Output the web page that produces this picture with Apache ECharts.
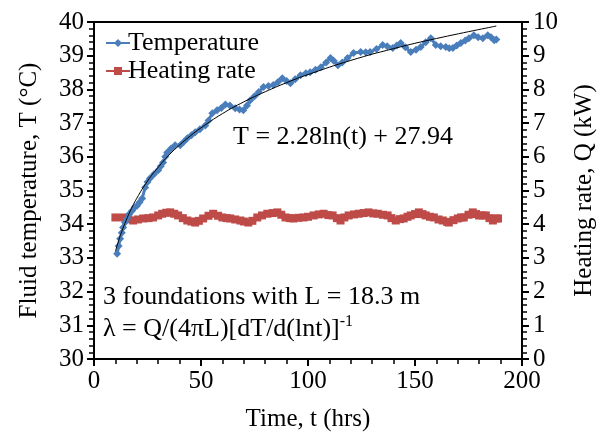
<!DOCTYPE html>
<html>
<head>
<meta charset="utf-8">
<script src="https://cdn.jsdelivr.net/npm/echarts@6/dist/echarts.min.js"></script>
<style>
html,body{margin:0;padding:0;background:#fff;}
#c{width:611px;height:439px;}
</style>
</head>
<body>
<div id="c"></div>
<script>
// Temperature readings (time in hrs, temperature in °C)
var tempTime = [10.8,11.5,12.2,13.0,13.6,14.5,15.5,16.5,17.8,19.0,20.1,21.3,22.5,23.9,25.0,26.2,28.0,30.0,31.2,32.3,33.3,34.2,36.0,37.9,40.3,42.0,43.6,45.5,47.3,49.5,52.0,53.5,55.3,57.5,59.5,61.4,63.5,66.0,68.0,69.8,71.5,73.0,75.0,77.0,79.2,81.5,83.8,86.0,88.0,90.0,91.8,94.0,96.5,99.0,101.0,103.5,106.0,108.5,110.5,112.0,114.0,116.0,118.5,121.3,124.6,127.0,129.0,132.0,134.9,137.0,139.6,141.5,143.3,145.5,148.0,150.5,152.7,155.0,157.4,159.7,162.0,164.4,166.0,167.7,169.5,171.4,173.5,175.2,177.5,179.5,181.7,184.0,185.5,187.0,188.0];
var tempVals = [33.12,33.35,33.57,33.75,33.9,34.05,34.17,34.3,34.4,34.5,34.55,34.65,34.76,35.09,35.25,35.36,35.48,35.6,35.72,35.83,36.0,36.13,36.25,36.34,36.34,36.45,36.55,36.64,36.73,36.82,36.93,37.08,37.29,37.38,37.45,37.55,37.52,37.44,37.4,37.38,37.52,37.68,37.8,37.92,38.07,38.1,38.13,38.22,38.33,38.25,38.18,38.3,38.42,38.48,38.51,38.58,38.66,38.8,38.93,38.85,38.72,38.8,38.93,39.08,39.11,39.1,39.11,39.2,39.32,39.28,39.23,39.3,39.38,39.25,39.11,39.18,39.26,39.4,39.52,39.32,39.28,39.26,39.22,39.23,39.3,39.38,39.45,39.52,39.61,39.55,39.52,39.61,39.55,39.46,39.48];

// Heating rate readings (time in hrs, Q in kW)
var heatTime = [10,13.6,16,18.3,20.5,23,25.5,27.6,30,31.9,33.8,35.6,37.5,39.3,41.5,43.6,45.5,47.3,49,51,53.5,55.7,58,60,62,63.7,66,68.4,70,72.1,74,76.3,78.5,81,83.5,85.7,87.5,89.5,91.5,93.2,95.5,97.9,100,102.6,105,107.3,109.5,111.5,113.5,115.2,117,119,121.5,123.7,126,128.3,130.5,132.6,135,137.2,139,141,143,144.7,146.5,148,150,151.8,153.5,155,157,158.8,161,163,165,165.8,168,170,171.5,172.8,175,177,178.5,179.9,181.5,183.1,184.8,186.4,188,188.8];
var heatVals = [4.2,4.2,4.15,4.11,4.14,4.17,4.18,4.2,4.26,4.31,4.34,4.35,4.31,4.26,4.18,4.11,4.08,4.05,4.1,4.17,4.25,4.31,4.25,4.2,4.18,4.17,4.14,4.11,4.08,4.05,4.1,4.2,4.26,4.31,4.33,4.35,4.28,4.2,4.18,4.17,4.19,4.2,4.22,4.26,4.29,4.31,4.27,4.26,4.18,4.11,4.2,4.26,4.29,4.31,4.33,4.35,4.32,4.31,4.28,4.26,4.18,4.11,4.15,4.17,4.22,4.26,4.3,4.35,4.3,4.26,4.22,4.2,4.14,4.11,4.07,4.05,4.12,4.17,4.2,4.2,4.28,4.35,4.3,4.26,4.26,4.26,4.18,4.11,4.17,4.17];

// Logarithmic trendline T = 2.28 ln(t) + 27.94, values listed at sample times
var trendTime = [10,11,12,13,15,17,20,25,30,35,40,45,50,60,70,80,90,100,120,140,160,188];
var trendVals = [33.19,33.41,33.61,33.79,34.11,34.40,34.77,35.28,35.69,36.05,36.35,36.62,36.86,37.28,37.63,37.93,38.20,38.44,38.86,39.21,39.51,39.88];

var xTicks = [0,50,100,150,200];
var leftTicks = [30,31,32,33,34,35,36,37,38,39,40];
var rightTicks = [0,1,2,3,4,5,6,7,8,9,10];

function pairs(a,b){ return a.map(function(v,i){ return [v,b[i]]; }); }

var FONT = 'Liberation Serif';
var BLUE = '#4A7EBB';
var RED = '#BE4B48';

var chart = echarts.init(document.getElementById('c'), null, {renderer:'canvas'});

function axisCommon(){
  return {
    axisLine:{show:true,onZero:false,lineStyle:{color:'#000',width:2}},
    axisTick:{show:true,inside:false,length:7,lineStyle:{color:'#000',width:2}},
    minorTick:{show:true,splitNumber:5,length:5,lineStyle:{color:'#000',width:1.5}},
    splitLine:{show:false},
    axisLabel:{color:'#000',fontFamily:FONT,fontSize:25,margin:10},
    nameTextStyle:{color:'#000',fontFamily:FONT,fontSize:25}
  };
}

var xA = Object.assign(axisCommon(), {
  type:'value', min:xTicks[0], max:xTicks[xTicks.length-1], interval:50,
  name:'Time, t (hrs)', nameLocation:'middle', nameGap:48
});
var yL = Object.assign(axisCommon(), {
  type:'value', position:'left', min:leftTicks[0], max:leftTicks[leftTicks.length-1], interval:1,
  name:'Fluid temperature, T (°C)', nameLocation:'middle', nameGap:52
});
var yR = Object.assign(axisCommon(), {
  type:'value', position:'right', min:rightTicks[0], max:rightTicks[rightTicks.length-1], interval:1,
  name:'Heating rate, Q (kW)', nameLocation:'middle', nameGap:50
});
yR.axisLabel = Object.assign({}, yR.axisLabel, {margin:11});

chart.setOption({
  animation:false,
  backgroundColor:'#fff',
  grid:{left:94,right:89,top:22,bottom:80,show:true,borderColor:'#000',borderWidth:2,backgroundColor:'transparent'},
  legend:{
    show:true, orient:'vertical', left:100, top:25, itemWidth:24, itemHeight:10, itemGap:2,
    data:['Temperature','Heating rate'],
    textStyle:{color:'#000',fontFamily:FONT,fontSize:26,padding:[0,0,0,-7]}
  },
  xAxis:xA,
  yAxis:[yL,yR],
  series:[
    {name:'Trend', type:'line', yAxisIndex:0, data:pairs(trendTime,trendVals), smooth:true,
     showSymbol:false, symbol:'none', lineStyle:{color:'#000',width:1}, z:5, silent:true},
    {name:'Heating rate', type:'line', yAxisIndex:1, data:pairs(heatTime,heatVals),
     symbol:'rect', symbolSize:8, itemStyle:{color:RED}, lineStyle:{color:RED,width:5}, z:3},
    {name:'Temperature', type:'line', yAxisIndex:0, data:pairs(tempTime,tempVals),
     symbol:'diamond', symbolSize:8, itemStyle:{color:BLUE}, lineStyle:{color:BLUE,width:3}, z:4}
  ],
  graphic:[
    {type:'text', left:233, top:124, style:{text:'T = 2.28ln(t) + 27.94', font:'26px "Liberation Serif"', fill:'#000'}},
    {type:'text', left:103, top:284, style:{text:'3 foundations with L = 18.3 m', font:'26px "Liberation Serif"', fill:'#000'}},
    {type:'text', left:103, top:314, style:{
      text:'{a|λ = Q/(4πL)[dT/d(lnt)]}{s|-1}',
      rich:{
        a:{fontFamily:FONT,fontSize:26,fill:'#000',color:'#000',lineHeight:30},
        s:{fontFamily:FONT,fontSize:16,fill:'#000',color:'#000',verticalAlign:'top',lineHeight:18}
      }
    }}
  ]
});
</script>
</body>
</html>
